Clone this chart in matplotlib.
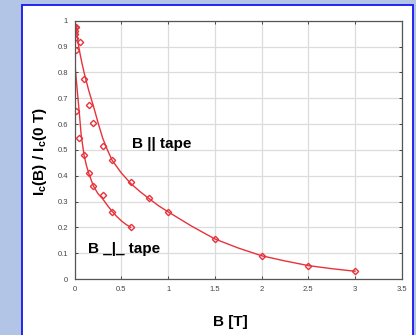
import matplotlib
matplotlib.use("Agg")
import matplotlib.pyplot as plt
from matplotlib.patches import Rectangle

plt.rcParams["font.family"] = ["Liberation Sans", "DejaVu Sans"]

# measured points, B || tape
par_b = [0.0, 0.018, 0.053, 0.1, 0.15, 0.2, 0.3, 0.4, 0.6, 0.8, 1.0, 1.5, 2.0, 2.5, 3.0]
par_v = [0.977, 0.975, 0.916, 0.775, 0.675, 0.605, 0.515, 0.46, 0.375, 0.315, 0.26, 0.155, 0.09, 0.05, 0.03]
# measured points, B perpendicular to tape
perp_b = [0.005, 0.0, 0.0, 0.01, 0.018, 0.046, 0.1, 0.15, 0.2, 0.3, 0.4, 0.6]
perp_v = [0.961, 0.949, 0.932, 0.888, 0.65, 0.545, 0.48, 0.41, 0.36, 0.325, 0.26, 0.20]

# fit curves
par_fit_b = [0.015, 0.03, 0.05, 0.075, 0.1, 0.15, 0.2, 0.25, 0.3, 0.35, 0.4, 0.5, 0.6, 0.7, 0.8,
             0.9, 1.0, 1.25, 1.5, 1.75, 2.0, 2.25, 2.5, 2.75, 3.0]
par_fit_v = [0.98, 0.93, 0.885, 0.84, 0.80, 0.73, 0.67, 0.605, 0.545, 0.50, 0.46, 0.41, 0.37,
             0.338, 0.31, 0.283, 0.26, 0.205, 0.155, 0.12, 0.09, 0.07, 0.052, 0.04, 0.03]
perp_fit_b = [0.0, 0.01, 0.02, 0.035, 0.05, 0.07, 0.1, 0.125, 0.15, 0.2, 0.25, 0.3, 0.35,
              0.4, 0.45, 0.5, 0.55, 0.6]
perp_fit_v = [0.84, 0.80, 0.76, 0.70, 0.64, 0.555, 0.48, 0.44, 0.41, 0.36, 0.33, 0.31, 0.285,
              0.262, 0.242, 0.225, 0.211, 0.20]

x_ticks = [0, 0.5, 1, 1.5, 2, 2.5, 3, 3.5]
x_labels = ["0", "0.5", "1", "1.5", "2", "2.5", "3", "3.5"]
y_ticks = [0, 0.1, 0.2, 0.3, 0.4, 0.5, 0.6, 0.7, 0.8, 0.9, 1]
y_labels = ["0", "0.1", "0.2", "0.3", "0.4", "0.5", "0.6", "0.7", "0.8", "0.9", "1"]

red = "#e8323a"

fig = plt.figure(figsize=(4.16, 3.35), dpi=100)
fig.patch.set_facecolor("#b2c5e6")
# white panel with blue border
fig.patches.append(Rectangle((22 / 416, -0.05), (413 - 22) / 416, (330 / 335) + 0.05,
                             transform=fig.transFigure, facecolor="white",
                             edgecolor="#1515f0", linewidth=1.3, zorder=-5))

ax = fig.add_axes([74.7 / 416, 56 / 335, 327 / 416, 258.3 / 335])
ax.set_facecolor("white")
ax.plot(par_fit_b, par_fit_v, color=red, lw=1.0)
ax.plot(perp_fit_b, perp_fit_v, color=red, lw=1.0)
ax.plot(par_b, par_v, ls="none", marker="D", ms=3.2, mfc="none", mec=red, mew=1.0)
ax.plot(perp_b, perp_v, ls="none", marker="D", ms=3.2, mfc="none", mec=red, mew=1.0)

ax.set_xlim(0, 3.5)
ax.set_ylim(0, 1)
ax.set_xticks(x_ticks, x_labels)
ax.set_yticks(y_ticks, y_labels)
ax.grid(True, color="#dcdcdc", lw=0.9)
ax.set_axisbelow(True)
ax.tick_params(direction="in", length=2.5, width=0.7, labelsize=5.5, labelcolor="#444444",
               color="#444444", top=True, right=True, pad=5)
for s in ax.spines.values():
    s.set_color("#555555")
    s.set_linewidth(0.9)

ax.text(0.61, 0.523, "B || tape", fontsize=11, fontweight="bold", va="center", ha="left")
ax.text(0.146, 0.115, "B _|_ tape", fontsize=11, fontweight="bold", va="center", ha="left")

fig.text(230 / 416, 1 - 322 / 335, "B [T]", fontsize=11, fontweight="bold",
         ha="center", va="center")
fig.text(40 / 416, 1 - 152 / 335, r"I$_\mathregular{c}$(B) / I$_\mathregular{c}$(0 T)",
         fontsize=11, fontweight="bold", rotation=90, ha="center", va="center")

fig.savefig("out.png", dpi=100, facecolor=fig.get_facecolor())
